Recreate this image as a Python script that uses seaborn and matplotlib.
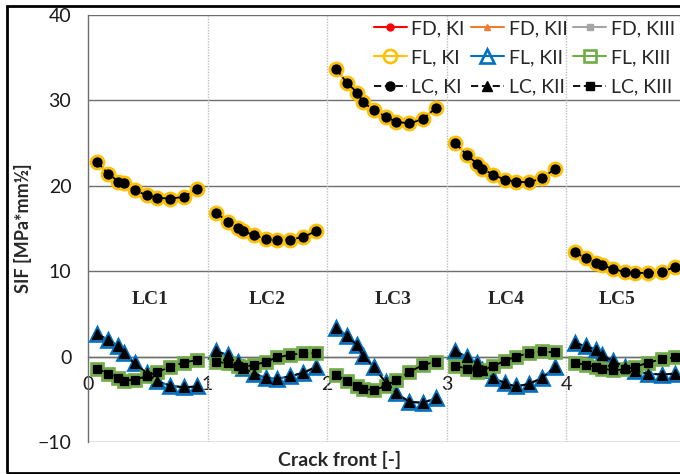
import numpy as np
import pandas as pd
import matplotlib
matplotlib.use("Agg")
import matplotlib.pyplot as plt
from matplotlib.lines import Line2D
from matplotlib.patches import Rectangle
import seaborn as sns

# Normalised positions of the evaluation points along each crack front
front_pos = [0.075, 0.17, 0.255, 0.30, 0.39, 0.49, 0.58, 0.69, 0.80, 0.91]
load_cases = ["LC1", "LC2", "LC3", "LC4", "LC5"]

# Mode I stress intensity factors per load case
ki = {
    "LC1": [22.8, 21.4, 20.5, 20.3, 19.5, 18.9, 18.6, 18.5, 18.7, 19.6],
    "LC2": [16.8, 15.8, 15.1, 14.7, 14.2, 13.8, 13.7, 13.7, 14.0, 14.7],
    "LC3": [33.7, 32.0, 30.9, 29.8, 28.9, 28.1, 27.5, 27.3, 27.8, 29.1],
    "LC4": [25.0, 23.6, 22.6, 22.0, 21.3, 20.7, 20.5, 20.4, 20.9, 22.0],
    "LC5": [12.2, 11.5, 11.0, 10.7, 10.3, 9.9, 9.8, 9.8, 9.9, 10.5],
}
# Mode II stress intensity factors per load case
kii = {
    "LC1": [2.6, 2.0, 1.2, 0.4, -0.8, -1.9, -2.9, -3.4, -3.6, -3.5],
    "LC2": [0.6, 0.2, -0.6, -1.3, -2.0, -2.5, -2.6, -2.3, -1.9, -1.2],
    "LC3": [3.4, 2.4, 1.3, 0.1, -1.2, -3.0, -4.3, -5.3, -5.4, -4.9],
    "LC4": [0.6, 0.0, -0.8, -1.6, -2.5, -3.1, -3.5, -3.2, -2.5, -1.2],
    "LC5": [1.6, 1.2, 0.8, 0.2, -0.5, -1.2, -1.7, -2.0, -2.1, -2.0],
}
# Mode III stress intensity factors per load case
kiii = {
    "LC1": [-1.4, -2.0, -2.5, -2.8, -2.7, -2.3, -1.8, -1.2, -0.7, -0.4],
    "LC2": [-0.6, -0.8, -1.1, -1.2, -1.0, -0.6, -0.1, 0.2, 0.4, 0.4],
    "LC3": [-2.1, -2.9, -3.5, -3.8, -3.9, -3.5, -2.7, -1.8, -1.0, -0.6],
    "LC4": [-1.1, -1.4, -1.8, -1.6, -1.1, -0.5, 0.0, 0.4, 0.6, 0.5],
    "LC5": [-0.7, -1.0, -1.2, -1.4, -1.6, -1.5, -1.2, -0.7, -0.3, -0.1],
}

methods = ["FD", "FL", "LC"]
modes = {"KI": ki, "KII": kii, "KIII": kiii}

rows = []
for method in methods:
    for mode, table in modes.items():
        for i, lc in enumerate(load_cases):
            for p, v in zip(front_pos, table[lc]):
                rows.append(dict(method=method, mode=mode, case=lc, x=i + p, sif=v))
df = pd.DataFrame(rows)

styles = {
    ("FD", "KI"): dict(color="#FF0000", marker="o", ms=5, mfc="#FF0000", mec="#FF0000", ls="-", lw=1.5),
    ("FD", "KII"): dict(color="#ED7D31", marker="^", ms=5, mfc="#ED7D31", mec="#ED7D31", ls="-", lw=1.5),
    ("FD", "KIII"): dict(color="#A5A5A5", marker="s", ms=4.5, mfc="#A5A5A5", mec="#A5A5A5", ls="-", lw=1.5),
    ("FL", "KI"): dict(color="#FFC000", marker="o", ms=9.5, mfc="none", mec="#FFC000", mew=1.9, ls="-", lw=1.5),
    ("FL", "KII"): dict(color="#0070C0", marker="^", ms=10, mfc="none", mec="#0070C0", mew=1.9, ls="-", lw=1.5),
    ("FL", "KIII"): dict(color="#70AD47", marker="s", ms=9, mfc="none", mec="#70AD47", mew=1.9, ls="-", lw=1.5),
    ("LC", "KI"): dict(color="#000000", marker="o", ms=6.5, mfc="#000000", mec="#000000", ls=(0, (4, 2)), lw=1.3),
    ("LC", "KII"): dict(color="#000000", marker="^", ms=6.5, mfc="#000000", mec="#000000", ls=(0, (4, 2)), lw=1.3),
    ("LC", "KIII"): dict(color="#000000", marker="s", ms=5.5, mfc="#000000", mec="#000000", ls=(0, (4, 2)), lw=1.3),
}

sns.set_theme(style="white")
plt.rcParams["font.family"] = ["Lato", "DejaVu Sans"]

fig = plt.figure(figsize=(6.8, 4.74), dpi=100)
ax = fig.add_axes([88 / 680, 1 - 442 / 474, 592 / 680, 427 / 474])

for method in methods:
    for mode in modes:
        st = styles[(method, mode)]
        sub = df[(df.method == method) & (df["mode"] == mode)]
        sns.lineplot(data=sub, x="x", y="sif", units="case", estimator=None,
                     sort=False, ax=ax, color=st["color"], marker=st["marker"],
                     markersize=st["ms"], markerfacecolor=st["mfc"],
                     markeredgecolor=st["mec"], markeredgewidth=st.get("mew", 1.0),
                     linestyle=st["ls"], linewidth=st["lw"], legend=False, zorder=3)

ax.set_xlim(0, 592 / 119.5)
ax.set_ylim(-10, 40)
ax.set_yticks(range(-10, 41, 10))
ax.set_xticks(range(0, 5))
ax.set_xticklabels([str(i) for i in range(0, 5)])

# Horizontal major gridlines and dotted separators between load cases
for yv in range(-10, 41, 10):
    ax.axhline(yv, color="#6E6E6E", lw=1.0, zorder=1)
for xv in range(1, 5):
    ax.axvline(xv, color="#BDBDBD", lw=1.0, ls=(0, (1, 1)), zorder=1)

for side in ["top", "right"]:
    ax.spines[side].set_visible(False)
ax.spines["left"].set_color("#6E6E6E")
ax.spines["left"].set_linewidth(1.0)
ax.spines["bottom"].set_position(("data", 0))
ax.spines["bottom"].set_color("#6E6E6E")
ax.spines["bottom"].set_linewidth(1.0)
ax.tick_params(axis="x", length=0, pad=14, labelsize=14, colors="#1A1A1A")
ax.tick_params(axis="y", length=0, pad=12, labelsize=14, colors="#1A1A1A")
ax.grid(False)

ax.set_xlabel("Crack front [-]", fontsize=14, fontweight="bold")
ax.xaxis.set_label_coords(252 / 592, -0.022)
ax.set_ylabel("SIF [MPa*mm½]", fontsize=13, fontweight="bold")
ax.yaxis.set_label_coords(-0.094, 0.5)

case_label_x = [0.52, 1.5, 2.55, 3.5, 4.43]
for lc, xc in zip(load_cases, case_label_x):
    ax.text(xc, 6.7, lc, ha="center", va="center", fontsize=14,
            fontweight="bold", family="Liberation Serif", zorder=4)

handles, labels = [], []
for mode in modes:
    for method in methods:
        st = styles[(method, mode)]
        handles.append(Line2D([], [], color=st["color"], marker=st["marker"],
                              markersize=st["ms"], markerfacecolor=st["mfc"],
                              markeredgecolor=st["mec"], markeredgewidth=st.get("mew", 1.0),
                              linestyle=st["ls"], linewidth=st["lw"]))
        labels.append(f"{method}, {mode}")
ax.legend(handles, labels, ncol=3, loc="upper right", bbox_to_anchor=(1.005, 1.006),
          frameon=False, fontsize=14, handlelength=1.7, handletextpad=0.25,
          columnspacing=0.3, labelspacing=0.62, borderaxespad=0.0)

fig.patches.append(Rectangle((7 / 680, 1 / 474), 1.2, 467 / 474, transform=fig.transFigure,
                             fill=False, edgecolor="black", lw=2, zorder=10))

fig.savefig("out.png", dpi=100)
